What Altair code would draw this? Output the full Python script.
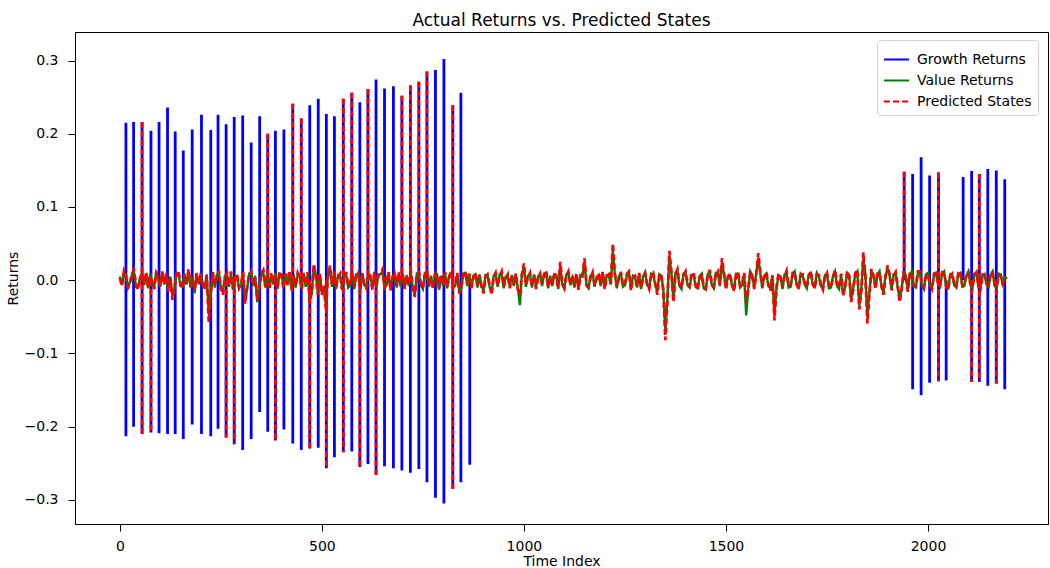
import altair as alt
import pandas as pd

# ---- data ----
series_names = ["Growth Returns", "Value Returns", "Predicted States"]
series_colors = ["#0000ff", "#008000", "#ff0000"]

# time index of the sampled noise band (every 5 steps)
time_index = list(range(0, 2200, 5))

# growth-return noise band, in thousandths (also followed by the predicted-state line)
growth_noise_milli = [
    3, -8, 12, 5, -10, -4, 9, 14, -6, -13, 2, 8, -5, 11, -9, 6, -3, -12, 10, 4,
    -7, 12, -4, 9, -15, 3, -27, -10, 8, 13, -5, -11, 7, -3, 15, -8, 2, -14, 10, -6,
    9, -5, -12, 6, -57, -18, 11, -7, 5, 13, -9, -20, 4, 10, -6, 12, -11, 3, 8, -10,
    -4, 11, -32, -9, 7, 12, -6, 3, -27, -12, 9, 14, -8, 5, -13, 10, -3, 7, -10, 12,
    6, -11, 9, -4, 13, -14, 5, -8, 10, 3, -12, 8, -6, 11, -30, -15, 22, 5, -20, 9,
    -20, -8, -40, 4, 20, -6, 12, -10, 5, 9, -13, 3, 11, -7, -4, 13, -9, 6, 10, -12,
    8, -5, -11, 9, 4, -13, 12, -7, 6, 10, 15, -9, -4, 12, -14, 3, 9, -8, 11, -6,
    10, -12, 5, -6, 13, -9, -23, 7, 11, -4, -10, 8, 13, -7, 4, -12, 9, 6, -11, 8,
    -6, 11, -9, 4, 12, -8, -5, 10, -18, -9, 7, 12, -5, 9, -11, 3, 10, -7, 6, -9,
    -18, 5, 8, -6, -20, 4, 10, -7, 6, 12, -9, 3, 8, -11, 5, -6, 9, -13, -20, 7,
    23, -6, 4, 10, -8, 6, -12, 3, 9, -5, 7, 13, -9, 4, -6, 10, 5, -10, 25, -4,
    -10, 6, 12, -5, 3, -8, 9, -13, 5, 7, 30, -6, -9, 4, 11, -7, 2, 9, -6, 12,
    -12, 5, 8, -4, 50, 10, -9, 3, 11, -7, -5, 9, 12, -14, 4, 6, -8, 10, -10, 3,
    9, -5, -12, 7, 10, -4, -20, 6, 8, -15, -82, -30, 40, 12, -30, 8, 15, -6, -10, 7,
    12, -5, -8, 9, 10, -7, -13, 4, 7, -9, -11, 6, 14, -5, -9, 8, 12, -6, 30, 10,
    -12, 4, 9, -6, -15, 7, 11, -8, -5, 10, -30, -12, 10, 5, -12, 8, 37, 12, -9, 4,
    11, -6, -14, 5, -55, -10, 9, 3, -10, 6, 13, -8, -7, 10, 10, -5, -12, 7, 8, -4,
    -9, 6, 12, -5, -11, 8, 7, -6, -13, 5, 10, -9, -8, 4, 14, -6, -10, 9, -22, -8,
    12, 5, -30, -12, 10, 14, -40, -15, 38, 6, -59, -20, 15, 6, -12, 9, 10, -8, -20, 5,
    20, 8, -14, 6, 11, -8, -30, -12, 12, 5, -16, 9, 10, -7, -8, 12, 12, -5, -10, 6,
    8, -6, -12, 9, 10, -4, -7, 11, 11, -8, -13, 6, 9, -5, -8, 10, 12, -7, -6, 8,
    10, -5, -9, 7, 11, -8, -12, 6, 8, -4, -7, 9, 10, -6, -9, 7, 6, -5, 2, 4,
]

# value-return noise band, in thousandths
value_noise_milli = [
    5, -6, 9, 8, -12, -2, 7, 11, -9, -10, 4, 10, -7, 8, -11, 9, -5, -9, 12, 2,
    -9, 10, -6, 7, -12, 5, -22, -13, 10, 9, -8, -9, 9, -6, 12, -10, 5, -18, 7, -4,
    8, -8, -10, 8, -45, -20, 9, -10, 7, 11, -12, -16, 6, 8, -9, 9, -13, 5, 6, -11,
    -6, 9, -28, -12, 9, 10, -8, 6, -30, -9, 7, 11, -10, 8, -10, 8, -6, 10, -12, 9,
    8, -9, 7, -7, 10, -12, 8, -10, 8, 6, -10, 10, -9, 8, -26, -18, 18, 8, -16, 7,
    -16, -11, -34, 6, 16, -9, 10, -12, 7, 6, -10, 6, 8, -10, -7, 10, -12, 8, 8, -14,
    10, -7, -9, 7, 7, -11, 9, -10, 8, 8, 12, -11, -7, 9, -12, 6, 7, -10, 9, -9,
    9, -10, 7, -8, 10, -12, -20, 9, 8, -7, -12, 10, 10, -9, 6, -10, 7, 8, -13, 6,
    -8, 9, -11, 6, 10, -10, -8, 8, -15, -12, 9, 10, -8, 7, -9, 6, 8, -10, 8, -7,
    -15, 7, 6, -9, -17, 6, 8, -9, 8, 9, -11, 5, 6, -9, 7, -8, 7, -11, -34, 9,
    18, -9, 6, 8, -10, 8, -9, 5, 7, -8, 9, 10, -11, 6, -8, 8, 7, -12, 20, -6,
    -12, 8, 10, -7, 5, -10, 7, -10, 7, 5, 25, -8, -11, 6, 9, -9, 4, 7, -8, 10,
    -10, 7, 6, -6, 40, 8, -11, 5, 9, -9, -7, 7, 10, -11, 6, 4, -10, 8, -12, 5,
    11, -7, -10, 9, 8, -6, -16, 8, 6, -12, -70, -26, 33, 10, -26, 10, 12, -8, -12, 9,
    10, -7, -10, 7, 8, -9, -11, 6, 9, -11, -13, 8, 11, -7, -11, 10, 10, -8, 24, 8,
    -10, 6, 7, -8, -12, 9, 9, -10, -7, 8, -48, -14, 12, 7, -10, 10, 30, 9, -11, 6,
    9, -8, -11, 7, -48, -12, 7, 5, -12, 8, 10, -10, -9, 8, 12, -7, -10, 9, 6, -6,
    -11, 8, 10, -7, -9, 10, 5, -8, -11, 7, 8, -11, -10, 6, 12, -8, -12, 7, -18, -10,
    10, 7, -26, -10, 8, 12, -35, -13, 30, 8, -50, -17, 12, 8, -10, 7, 12, -10, -17, 7,
    16, 6, -12, 8, 9, -10, -26, -10, 10, 7, -13, 7, 12, -9, -10, 10, 10, -7, -12, 8,
    10, -8, -10, 7, 9, -6, -9, 9, 12, -10, -11, 8, 7, -7, -10, 8, 10, -9, -8, 6,
    12, -7, -11, 9, 9, -10, -9, 8, 6, -6, -9, 7, 12, -8, -11, 9, 8, -7, 4, 2,
]

# large spikes in the growth series
spike_t = [15, 34, 55, 77, 97, 118, 137, 157, 179, 202, 225, 243, 263, 283,
           304, 325, 346, 366, 385, 406, 428, 449, 470, 491, 511, 531, 553,
           574, 594, 614, 634, 655, 677, 698, 719, 740, 760, 781, 802, 824,
           844, 866,
           1941, 1962, 1983, 2004, 2026, 2045, 2087, 2108, 2127, 2148, 2169, 2190]
spike_up = [0.215, 0.216, 0.216, 0.204, 0.216, 0.236, 0.203, 0.177, 0.206,
            0.226, 0.205, 0.226, 0.213, 0.223, 0.225, 0.188, 0.224, 0.200,
            0.204, 0.206, 0.241, 0.221, 0.239, 0.248, 0.227, 0.224, 0.248,
            0.256, 0.243, 0.261, 0.274, 0.262, 0.265, 0.252, 0.266, 0.271,
            0.285, 0.287, 0.302, 0.239, 0.256, None,
            0.148, 0.145, 0.168, 0.143, 0.147, None, 0.141, 0.149, 0.145,
            0.152, 0.150, 0.138]
spike_down = [-0.213, -0.200, -0.210, -0.208, -0.209, -0.210, -0.210, -0.217,
              -0.197, -0.210, -0.213, -0.203, -0.215, -0.224, -0.232, -0.217,
              -0.180, -0.207, -0.219, -0.204, -0.223, -0.232, -0.230, -0.229,
              -0.257, -0.242, -0.235, -0.234, -0.255, -0.251, -0.266, -0.254,
              -0.257, -0.260, -0.263, -0.258, -0.276, -0.297, -0.305, -0.285,
              -0.276, -0.252,
              None, -0.149, -0.157, -0.140, -0.138, -0.137, None, -0.139,
              -0.139, -0.144, -0.141, -0.149]
# spikes that the predicted-state line also follows (upward / downward)
pred_up_t = [55, 366, 428, 449, 553, 574, 614, 698, 719, 740, 760, 824,
             1941, 2026, 2127]
pred_down_t = [55, 77, 263, 283, 385, 470, 511, 553, 594, 634, 824,
               2026, 2108, 2127, 2169]

# ---- tables ----
green_df = pd.DataFrame({"t": time_index,
                         "r": [v / 1000 for v in value_noise_milli],
                         "series": series_names[1]})
red_df = pd.DataFrame({"t": time_index,
                       "r": [v / 1000 for v in growth_noise_milli],
                       "series": series_names[2]})

up_clean = [u if u is not None else 0.0 for u in spike_up]
down_clean = [d if d is not None else 0.0 for d in spike_down]
blue_spikes = pd.DataFrame({"t": spike_t, "hi": up_clean, "lo": down_clean,
                            "series": series_names[0]})
red_rows = []
for t, u, d in zip(spike_t, up_clean, down_clean):
    hi = u if t in pred_up_t else 0.0
    lo = d if t in pred_down_t else 0.0
    if hi != 0.0 or lo != 0.0:
        red_rows.append({"t": t, "hi": hi, "lo": lo, "series": series_names[2]})
red_spikes = pd.DataFrame(red_rows)

# ---- encodings ----
x_scale = alt.Scale(domain=[-111, 2297], nice=False, zero=False)
y_scale = alt.Scale(domain=[-0.333, 0.339], nice=False, zero=False)
x_axis = alt.Axis(values=[0, 500, 1000, 1500, 2000], format="d", title="Time Index",
                  grid=False, labelPadding=8, titlePadding=1)
y_axis = alt.Axis(values=[-0.3, -0.2, -0.1, 0.0, 0.1, 0.2, 0.3], format=".1f",
                  grid=False, title="Returns", labelPadding=10, titlePadding=4)

color_enc = alt.Color("series:N",
                      scale=alt.Scale(domain=series_names, range=series_colors),
                      legend=alt.Legend(title=None, orient="none", legendX=802, legendY=8,
                                        symbolType="stroke", symbolSize=625,
                                        symbolStrokeWidth=2, labelFontSize=14,
                                        labelFont="DejaVu Sans", labelColor="black",
                                        rowPadding=-4, padding=6, labelOffset=7,
                                        fillColor="white", strokeColor="#d0d0d0",
                                        cornerRadius=3))
dash_enc = alt.StrokeDash("series:N",
                          scale=alt.Scale(domain=series_names,
                                          range=[[1, 0], [1, 0], [6, 3]]),
                          legend=alt.Legend(title=None))

def rules(df):
    return alt.Chart(df).mark_rule(strokeWidth=2.8).encode(
        x=alt.X("t:Q", scale=x_scale, axis=x_axis),
        y=alt.Y("hi:Q", scale=y_scale, axis=y_axis),
        y2="lo:Q",
        color=color_enc,
        strokeDash=dash_enc,
    )

def band(df, width):
    return alt.Chart(df).mark_line(strokeWidth=width).encode(
        x=alt.X("t:Q", scale=x_scale, axis=x_axis),
        y=alt.Y("r:Q", scale=y_scale, axis=y_axis),
        color=color_enc,
        strokeDash=dash_enc,
    )

chart = alt.layer(rules(blue_spikes), band(green_df, 2.4), band(red_df, 2.7),
                  rules(red_spikes)).properties(
    width=973,
    height=492,
    title=alt.TitleParams("Actual Returns vs. Predicted States", fontSize=17,
                          font="DejaVu Sans", fontWeight="normal", color="black",
                          offset=2),
    autosize=alt.AutoSizeParams(type="none"),
    padding={"left": 75, "top": 32, "right": 2, "bottom": 44},
    background="white",
).configure_view(
    stroke="black", strokeWidth=1
).configure_axis(
    grid=False, domainColor="black", tickColor="black", tickSize=7,
    labelColor="black", titleColor="black", labelFont="DejaVu Sans",
    titleFont="DejaVu Sans", labelFontSize=14, titleFontSize=14,
    titleFontWeight="normal",
)

chart.save("out.html", embed_options={"renderer": "svg", "actions": False})
